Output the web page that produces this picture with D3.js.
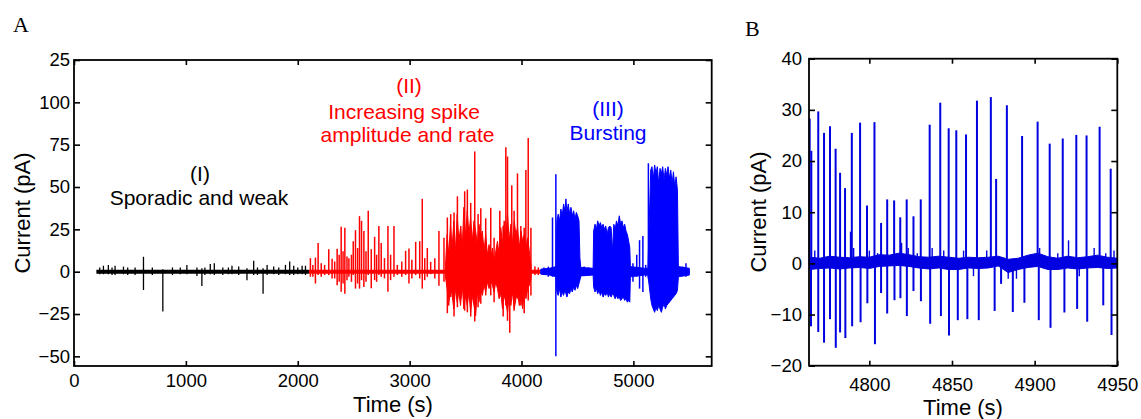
<!DOCTYPE html>
<html>
<head>
<meta charset="utf-8">
<script src="https://cdn.jsdelivr.net/npm/d3@7"></script>
<style>
body { margin: 0; background: #fff; }
svg text { font-family: "Liberation Sans", Arial, sans-serif; fill: #000; }
</style>
</head>
<body>
<script>
const width = 1141;
const height = 419;

// ---- panel A data (time in s, current in pA) ----
const phaseStart = [200, 2100, 4170];
const phaseEnd = [2100, 4170, 5500];

const spikeTimeI = [230, 263, 307, 340, 367, 442, 480, 546, 621, 700, 794, 880, 950, 1009, 1099, 1143, 1170, 1218, 1254, 1330, 1380, 1412, 1472, 1546, 1606, 1640, 1690, 1726, 1785, 1830, 1890, 1928, 1964, 2000, 2039, 2069];
const spikeHighI = [2.5, 3.5, 4, 2.5, 3.5, 3, 2.5, 2.5, 8.8, 2.5, 1.5, 2.5, 2.5, 4, 2.5, 2, 2.5, 4.5, 5, 2.5, 2.5, 3.5, 3, 2, 6.5, 2.5, 2, 4, 3, 2.5, 4, 6, 3.5, 2.5, 3.5, 3.5];
const spikeLowI = [-1.5, -1.5, -1.5, -2, -2, -1.5, -2, -2, -10.8, -2, -23.5, -2, -1.5, -1.5, -2.5, -8.4, -2, -1.5, -2, -2, -1.5, -1.5, -2, -5, -2, -2, -13, -2, -1.5, -2, -1.5, -2, -2, -1.5, -1.5, -2];

const spikeTimeII = [2113, 2135, 2158, 2182, 2210, 2240, 2277, 2307, 2330, 2352, 2370, 2388, 2405, 2421, 2440, 2457, 2480, 2496, 2516, 2535, 2552, 2570, 2591, 2610, 2630, 2657, 2687, 2705, 2725, 2746, 2775, 2806, 2830, 2860, 2890, 2930, 2964, 2994, 3020, 3054, 3090, 3113, 3135, 3158, 3188, 3225, 3262, 3307, 3337, 3367, 3397, 3427, 3457, 3492, 3516, 3546, 3582, 3612, 3636, 3680, 3725, 3755, 3806, 3836, 3860, 3875, 3895, 3913, 3934, 3964, 3994, 4024, 4039, 4060, 4084, 4120, 4150];
const spikeHighII = [8, 4, 8.3, 17, 5, 4, 13.3, 7.6, 6, 13.5, 10, 26.5, 12, 26, 9, 8, 10, 18, 24.5, 14, 32.8, 30, 24, 12, 36, 13.3, 20.6, 10, 27, 17, 8, 27, 10, 27, 4, 6, 12.3, 13.7, 7, 17.6, 18, 43, 8, 14, 5.8, 8, 24, 20, 32, 34, 35, 44.5, 27, 47.5, 48.5, 40.6, 71, 34, 37.5, 31.5, 37.7, 20, 36, 27, 73.5, 68, 20, 51, 36, 58, 27, 26, 60, 79, 26, 3, 2.5];
const spikeLowII = [-3, -3, -7, -2, -3, -2, -2, -4, -4, -8, -6, -11.8, -7, -13, -5, -3, -6, -2, -10, -7, -10, -5, -9, -6, -2, -9.8, -5, -6, -2, -3, -4, -11.8, -5, -3, -2, -3, -2, -7, -4, -2, -4, -10, -5, -3, -1.5, -4, -8.3, -6, -24.5, -15, -26.5, -21, -16, -23, -24, -26.5, -29.4, -21, -19, -14, -14, -18, -15, -26.5, -20, -29, -36, -14, -23, -16, -20, -24.5, -13, -17, -14, -2, -2];

// dense part of phase II, upper and lower edges of the trace
const denseTimeII = [3320, 3335, 3350, 3365, 3380, 3395, 3410, 3425, 3440, 3455, 3470, 3485, 3500, 3515, 3530, 3545, 3560, 3575, 3590, 3605, 3620, 3635, 3650, 3665, 3680, 3695, 3710, 3725, 3740, 3755, 3770, 3785, 3800, 3815, 3830, 3845, 3860, 3875, 3890, 3905, 3920, 3935, 3950, 3965, 3980, 3995, 4010, 4025, 4040, 4055, 4070, 4085];
const denseHighII = [3, 22, 10, 28, 14, 30, 12, 34, 18, 26, 14, 38, 20, 36, 22, 32, 18, 30, 24, 16, 28, 20, 24, 12, 22, 10, 16, 8, 14, 6, 12, 18, 10, 26, 16, 30, 20, 34, 18, 28, 16, 30, 22, 26, 14, 24, 18, 22, 14, 20, 12, 4];
const denseLowII = [-3, -10, -20, -8, -14, -22, -10, -18, -12, -20, -8, -22, -14, -20, -12, -24, -14, -20, -26, -12, -18, -10, -14, -8, -12, -6, -10, -5, -8, -12, -6, -10, -16, -12, -22, -14, -18, -24, -14, -20, -12, -22, -16, -12, -20, -14, -22, -12, -16, -10, -8, -4];

const spikeTimeIII = [4200, 4240, 4277, 4307, 4560, 4600, 4996, 5030, 5055, 5085, 5110, 5134, 5440, 5470];
const spikeHighIII = [2.5, 3, 32, 57.5, 3, 2.5, 5, 10, 18.6, 21, 4, 64, 3, 5];
const spikeLowIII = [-2, -3, -3, -50, -2.5, -2, -6, -3, -10, -12, -3, -4, -2, -3];

// bursts of phase III, upper and lower edges of the trace
const burstTimeIII = [4173, 4250, 4310, 4316, 4328, 4340, 4352, 4364, 4376, 4388, 4397, 4406, 4418, 4430, 4442, 4454, 4466, 4478, 4490, 4502, 4514, 4522, 4530, 4640, 4645, 4657, 4669, 4681, 4693, 4705, 4717, 4729, 4741, 4753, 4765, 4777, 4789, 4801, 4813, 4825, 4837, 4849, 4861, 4874, 4886, 4898, 4910, 4922, 4934, 4946, 4958, 4968, 4973, 5100, 5130, 5155, 5166, 5178, 5190, 5202, 5214, 5226, 5238, 5250, 5262, 5274, 5286, 5298, 5310, 5322, 5334, 5346, 5358, 5370, 5382, 5394, 5402, 5500];
const burstHighIII = [1.5, 2, 3, 30, 34, 30, 37, 33, 40, 36, 43, 35, 40, 34, 38, 33, 36, 31, 35, 33, 30, 8, 2.5, 2, 24, 28, 25, 30, 27, 29, 26, 28, 25, 27, 22, 26, 27, 26, 12, 28, 25, 30, 27, 33, 28, 30, 26, 28, 24, 22, 18, 14, 3, 2, 2, 60, 62, 55, 63, 58, 62, 52, 61, 58, 62, 54, 61, 57, 62, 55, 60, 52, 59, 50, 56, 48, 3, 2];
const burstLowIII = [-1.5, -2, -3, -12, -14, -10, -15, -12, -14, -11, -13, -15, -12, -13, -10, -12, -9, -11, -8, -10, -7, -5, -2.5, -2, -9, -12, -10, -13, -11, -14, -12, -15, -13, -14, -12, -15, -13, -15, -13, -14, -16, -14, -16, -15, -17, -16, -15, -17, -16, -18, -17, -18, -3, -2, -2, -16, -20, -22, -24, -21, -23, -20, -22, -24, -21, -19, -22, -20, -19, -18, -17, -16, -15, -14, -13, -11, -3, -2];

const xTicksA = [0, 1000, 2000, 3000, 4000, 5000];
const xLabelsA = ["0", "1000", "2000", "3000", "4000", "5000"];
const yTicksA = [-50, -25, 0, 25, 50, 75, 100, 125];
const yLabelsA = ["\u221250", "\u221225", "0", "25", "50", "75", "100", "25"];

// ---- panel B data ----
const upTimeB = [4763.9, 4764.9, 4769.1, 4772.6, 4776.2, 4779.6, 4782.3, 4785.3, 4788.8, 4789.4, 4794.4, 4798.6, 4803.1, 4807.1, 4810.8, 4815.0, 4818.7, 4822.6, 4826.7, 4831.1, 4836.5, 4842.9, 4848.0, 4852.6, 4858.5, 4865.1, 4873.5, 4876.7, 4883.2, 4892.4, 4901.8, 4909.1, 4917.0, 4925.2, 4931.4, 4939.3, 4946.0];
const upValB = [28.3, 22, 29.7, 25.5, 26.8, 22.4, 17.7, 14.7, 6.2, 25.5, 27.5, 11.3, 27.6, 7.9, 12.5, 12.3, 9, 12.5, 9.2, 12.5, 27.1, 31.4, 26.4, 26, 25.2, 31.8, 32.5, 16.5, 30.9, 24.9, 27.7, 23.4, 24.4, 25.1, 25, 26.7, 18.5];
const downTimeB = [4764.7, 4769.1, 4772.6, 4776.2, 4779.7, 4782.3, 4785.5, 4789.6, 4794.7, 4798.8, 4803.4, 4807.1, 4810.8, 4815.2, 4818.8, 4822.7, 4826.7, 4831.2, 4836.8, 4843.3, 4848.2, 4853.5, 4859.3, 4866.2, 4875.8, 4879.7, 4886.8, 4893.8, 4902.5, 4909.6, 4918.0, 4925.7, 4931.8, 4941.5, 4946.5];
const downValB = [-12.3, -13.4, -15.5, -10.9, -16.5, -13.5, -14.6, -12.3, -11.5, -7.8, -15.8, -5.8, -9.8, -7.2, -6.8, -10.3, -5.4, -7.4, -11.8, -10.3, -14.1, -11.1, -10.9, -11.1, -9.3, -4, -9.5, -7.7, -11.1, -12.6, -9.6, -8.9, -11.4, -8.2, -14];

// small blips riding on the baseline
const blipTimeB = [4767, 4790.5, 4800, 4805, 4819.5, 4823.5, 4829, 4838, 4845, 4857, 4863, 4871, 4884, 4889, 4903, 4914, 4920.5, 4927, 4936, 4943, 4948];
const blipValB = [2.5, 3, 2.5, 2, 4, 3, 2, 3, 2.5, 2.5, -2.5, 2.5, -3, -3, 3, 2, 4.5, -2.5, 3, 2, 2.5];

const baseTimeB = [4764, 4770, 4776, 4782, 4788, 4794, 4800, 4806, 4812, 4818, 4824, 4830, 4836, 4842, 4848, 4854, 4860, 4866, 4872, 4878, 4884, 4890, 4896, 4902, 4908, 4914, 4920, 4926, 4932, 4938, 4944, 4950];
const baseHighB = [1.2, 1.0, 1.4, 1.2, 1.1, 1.3, 1.2, 1.7, 1.6, 2.0, 1.7, 1.3, 1.2, 1.4, 1.2, 1.0, 1.2, 1.1, 1.2, 1.4, 0.8, 1.0, 1.6, 2.0, 1.3, 1.0, 1.4, 1.1, 1.3, 1.6, 1.2, 1.0];
const baseLowB = [-1.2, -1.0, -0.9, -1.1, -0.9, -0.8, -1.0, -0.6, -0.5, -0.4, -0.6, -0.9, -1.1, -0.9, -1.2, -1.2, -0.9, -1.0, -0.9, -0.5, -1.8, -1.2, -0.8, -0.6, -1.2, -1.2, -0.9, -1.1, -0.9, -0.8, -1.0, -0.9];

const xTicksB = [4800, 4850, 4900, 4950];
const yTicksB = [-20, -10, 0, 10, 20, 30, 40];
const yLabelsB = ["\u221220", "\u221210", "0", "10", "20", "30", "40"];

const phaseColor = ["#000", "#f00", "#00f"];
const blueB = "#0000e0";

const svg = d3.select("body")
    .append("svg")
    .attr("width", width)
    .attr("height", height)
    .style("background", "#fff");

const xA = d3.scaleLinear().domain([0, 5700]).range([74, 711.7]);
const yA = d3.scaleLinear().domain([-55.7, 125]).range([366, 60]);
const xB = d3.scaleLinear().domain([4763.5, 4950]).range([809, 1117.3]);
const yB = d3.scaleLinear().domain([-20, 40]).range([365.7, 58.7]);

function zip3(t, a, b) {
    return t.map((d, i) => ({ t: d, hi: a[i], lo: b[i] }));
}

// ---- panel A traces ----
const gA = svg.append("g");
const envA = d3.area()
    .x(d => xA(d.t))
    .y0(d => yA(d.lo))
    .y1(d => yA(d.hi));

const spikesA = [
    zip3(spikeTimeI, spikeHighI, spikeLowI),
    zip3(spikeTimeII, spikeHighII, spikeLowII),
    zip3(spikeTimeIII, spikeHighIII, spikeLowIII)
];

phaseStart.forEach((s, i) => {
    gA.append("line")
        .attr("x1", xA(s))
        .attr("x2", xA(phaseEnd[i]))
        .attr("y1", yA(0))
        .attr("y2", yA(0))
        .attr("stroke", phaseColor[i])
        .attr("stroke-width", 4);
});

gA.append("path")
    .datum(zip3(denseTimeII, denseHighII, denseLowII))
    .attr("d", envA)
    .attr("fill", phaseColor[1])
    .attr("stroke", phaseColor[1])
    .attr("stroke-width", 1);

gA.append("path")
    .datum(zip3(burstTimeIII, burstHighIII, burstLowIII))
    .attr("d", envA)
    .attr("fill", phaseColor[2])
    .attr("stroke", phaseColor[2])
    .attr("stroke-width", 1);

spikesA.forEach((list, i) => {
    gA.append("g")
        .selectAll("line")
        .data(list)
        .enter().append("line")
        .attr("x1", d => xA(d.t))
        .attr("x2", d => xA(d.t))
        .attr("y1", d => yA(d.lo))
        .attr("y2", d => yA(d.hi))
        .attr("stroke", phaseColor[i])
        .attr("stroke-width", i === 0 ? 1.3 : 1.5);
});

// ---- panel B traces ----
const gB = svg.append("g");
gB.append("path")
    .datum(zip3(baseTimeB, baseHighB, baseLowB))
    .attr("d", d3.area().x(d => xB(d.t)).y0(d => yB(d.lo)).y1(d => yB(d.hi)))
    .attr("fill", blueB)
    .attr("stroke", blueB)
    .attr("stroke-width", 1);

gB.append("g")
    .selectAll("line")
    .data(blipTimeB.map((t, i) => ({ t: t, v: blipValB[i] })))
    .enter().append("line")
    .attr("x1", d => xB(d.t))
    .attr("x2", d => xB(d.t))
    .attr("y1", yB(0))
    .attr("y2", d => yB(d.v))
    .attr("stroke", blueB)
    .attr("stroke-width", 1.4);

gB.append("g")
    .selectAll("line")
    .data(upTimeB.map((t, i) => ({ t: t, v: upValB[i] })).concat(downTimeB.map((t, i) => ({ t: t, v: downValB[i] }))))
    .enter().append("line")
    .attr("x1", d => xB(d.t))
    .attr("x2", d => xB(d.t))
    .attr("y1", yB(0))
    .attr("y2", d => yB(d.v))
    .attr("stroke", blueB)
    .attr("stroke-width", 2);

// ---- axes ----
function frameAxes(x, y, xTicks, xLabels, yTicks, yLabels, xPad, yPad) {
    const g = svg.append("g");
    const [x0, x1] = x.range();
    const [y0, y1] = y.range();
    g.append("g")
        .attr("transform", `translate(0,${y0})`)
        .call(d3.axisBottom(x).tickValues(xTicks).tickFormat((d, i) => xLabels[i]).tickSizeInner(-5).tickSizeOuter(0).tickPadding(xPad));
    g.append("g")
        .attr("transform", `translate(0,${y1})`)
        .call(d3.axisTop(x).tickValues(xTicks).tickFormat("").tickSizeInner(-5).tickSizeOuter(0));
    g.append("g")
        .attr("transform", `translate(${x0},0)`)
        .call(d3.axisLeft(y).tickValues(yTicks).tickFormat((d, i) => yLabels[i]).tickSizeInner(-6).tickSizeOuter(0).tickPadding(yPad));
    g.append("g")
        .attr("transform", `translate(${x1},0)`)
        .call(d3.axisRight(y).tickValues(yTicks).tickFormat("").tickSizeInner(-6).tickSizeOuter(0));
    g.selectAll(".domain").remove();
    g.selectAll(".tick line").attr("stroke", "#000").attr("stroke-width", 1.6);
    g.selectAll(".tick text").attr("font-family", "Liberation Sans, Arial, sans-serif").attr("font-size", 18.5).attr("fill", "#000");
    g.append("rect")
        .attr("x", x0)
        .attr("y", y1)
        .attr("width", x1 - x0)
        .attr("height", y0 - y1)
        .attr("fill", "none")
        .attr("stroke", "#000")
        .attr("stroke-width", 1.8);
}

frameAxes(xA, yA, xTicksA, xLabelsA, yTicksA, yLabelsA, 8, 4);
frameAxes(xB, yB, xTicksB, xTicksB.map(String), yTicksB, yLabelsB, 12, 7);

// ---- labels ----
function label(x, y, txt, size, color, anchor, rot) {
    const t = svg.append("text")
        .attr("transform", `translate(${x},${y})` + (rot ? ` rotate(${rot})` : ""))
        .attr("text-anchor", anchor || "middle")
        .attr("font-size", size)
        .style("fill", color || "#000")
        .text(txt);
    return t;
}

label(393, 412, "Time (s)", 22);
label(963, 415, "Time (s)", 22);
label(30, 213, "Current (pA)", 22, "#000", "middle", -90);
label(766, 212, "Current (pA)", 22, "#000", "middle", -90);

label(200, 181, "(I)", 21);
label(199, 205, "Sporadic and weak", 21);
label(409, 93, "(II)", 21, "#f00");
label(404, 118.5, "Increasing spike", 21, "#f00");
label(407.5, 142, "amplitude and rate", 21, "#f00");
label(608, 116, "(III)", 21, "#00f");
label(608, 139.5, "Bursting", 21, "#00f");

label(13, 32, "A", 22, "#000", "start").style("font-family", "Liberation Serif, Times New Roman, serif");
label(745, 36, "B", 22, "#000", "start").style("font-family", "Liberation Serif, Times New Roman, serif");
</script>
</body>
</html>
